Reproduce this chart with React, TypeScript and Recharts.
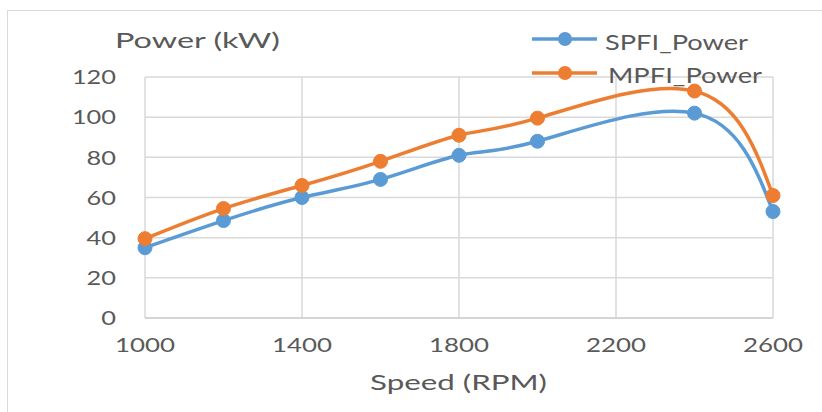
import { LineChart, Line, XAxis, YAxis, CartesianGrid, Legend } from 'recharts';

const speeds = [1000, 1200, 1400, 1600, 1800, 2000, 2400, 2600];
const spfiPower = [35, 48.5, 60, 69, 81, 88, 102, 53];
const mpfiPower = [39.5, 54.5, 66, 78, 91, 99.5, 113, 61];
const xTicks = [1000, 1400, 1800, 2200, 2600];
const yTicks = [0, 20, 40, 60, 80, 100, 120];

const BLUE = '#5b9bd5';
const ORANGE = '#ed7d31';
const TEXT = '#595959';
const FONT = 'Lato, "Open Sans", sans-serif';

const data = speeds.map((s, i) => ({ speed: s, spfi: spfiPower[i], mpfi: mpfiPower[i] }));

// Excel-ish wide glyphs: stretch each label to ~15px per digit
const XTick = ({ x, y, payload }: any) => {
  const s = String(payload.value);
  return (
    <text x={x} y={y} dy="0.71em" textAnchor="middle" fill={TEXT} fontSize={20} fontFamily={FONT}
      textLength={s.length * 15} lengthAdjust="spacingAndGlyphs">
      {s}
    </text>
  );
};

const YTick = ({ x, y, payload }: any) => {
  const s = String(payload.value);
  return (
    <text x={x} y={y} dy="0.36em" textAnchor="end" fill={TEXT} fontSize={20} fontFamily={FONT}
      textLength={s.length * 14.7} lengthAdjust="spacingAndGlyphs">
      {s}
    </text>
  );
};

const LegendBox = () => {
  const items = [
    { label: 'SPFI_Power', color: BLUE, ly: 19, ty: 30, tx: 75, w: 143 },
    { label: 'MPFI_Power', color: ORANGE, ly: 53, ty: 63, tx: 78, w: 154 },
  ];
  return (
    <svg width={290} height={75}>
      {items.map((it) => (
        <g key={it.label}>
          <line x1={2} y1={it.ly} x2={67} y2={it.ly} stroke={it.color} strokeWidth={3.5} />
          <circle cx={35} cy={it.ly} r={7} fill={it.color} />
          <text x={it.tx} y={it.ty} fill={TEXT} fontSize={21} fontFamily={FONT}
            textLength={it.w} lengthAdjust="spacingAndGlyphs">
            {it.label}
          </text>
        </g>
      ))}
    </svg>
  );
};

export default function App() {
  return (
    <div style={{ position: 'absolute', left: 0, top: 0, width: 822, height: 412, background: '#fff', overflow: 'hidden' }}>
      <div style={{ position: 'absolute', left: 7, top: 10, width: 830, height: 420, border: '1px solid #d9d9d9' }} />
      <LineChart
        width={822}
        height={412}
        data={data}
        margin={{ top: 77, right: 49, left: 85, bottom: 64 }}
        style={{ position: 'absolute', left: 0, top: 0 }}
      >
        <CartesianGrid stroke="#d9d9d9" strokeWidth={1.5} />
        <XAxis
          dataKey="speed"
          type="number"
          domain={[1000, 2600]}
          ticks={xTicks}
          height={30}
          axisLine={{ stroke: '#d0d0d0', strokeWidth: 1.5 }}
          tickLine={false}
          tick={<XTick />}
          tickMargin={14}
        />
        <YAxis
          type="number"
          domain={[0, 120]}
          ticks={yTicks}
          width={60}
          axisLine={false}
          tickLine={false}
          tick={<YTick />}
          tickMargin={23}
        />
        <Legend
          layout="vertical"
          verticalAlign="middle"
          align="center"
          content={<LegendBox />}
          wrapperStyle={{ position: 'absolute', left: 530, top: 20, width: 290, height: 75 }}
        />
        <Line
          type="natural"
          dataKey="spfi"
          stroke={BLUE}
          strokeWidth={3.5}
          dot={{ r: 7, fill: BLUE, stroke: BLUE, strokeWidth: 1 }}
          isAnimationActive={false}
        />
        <Line
          type="natural"
          dataKey="mpfi"
          stroke={ORANGE}
          strokeWidth={3.5}
          dot={{ r: 7, fill: ORANGE, stroke: ORANGE, strokeWidth: 1 }}
          isAnimationActive={false}
        />
      </LineChart>
      <svg width={822} height={412} style={{ position: 'absolute', left: 0, top: 0, pointerEvents: 'none' }}>
        <text x={115} y={48} fill={TEXT} fontSize={21} fontFamily={FONT} textLength={165} lengthAdjust="spacingAndGlyphs">
          Power (kW)
        </text>
        <text x={370} y={390} fill={TEXT} fontSize={21} fontFamily={FONT} textLength={177} lengthAdjust="spacingAndGlyphs">
          Speed (RPM)
        </text>
      </svg>
    </div>
  );
}
